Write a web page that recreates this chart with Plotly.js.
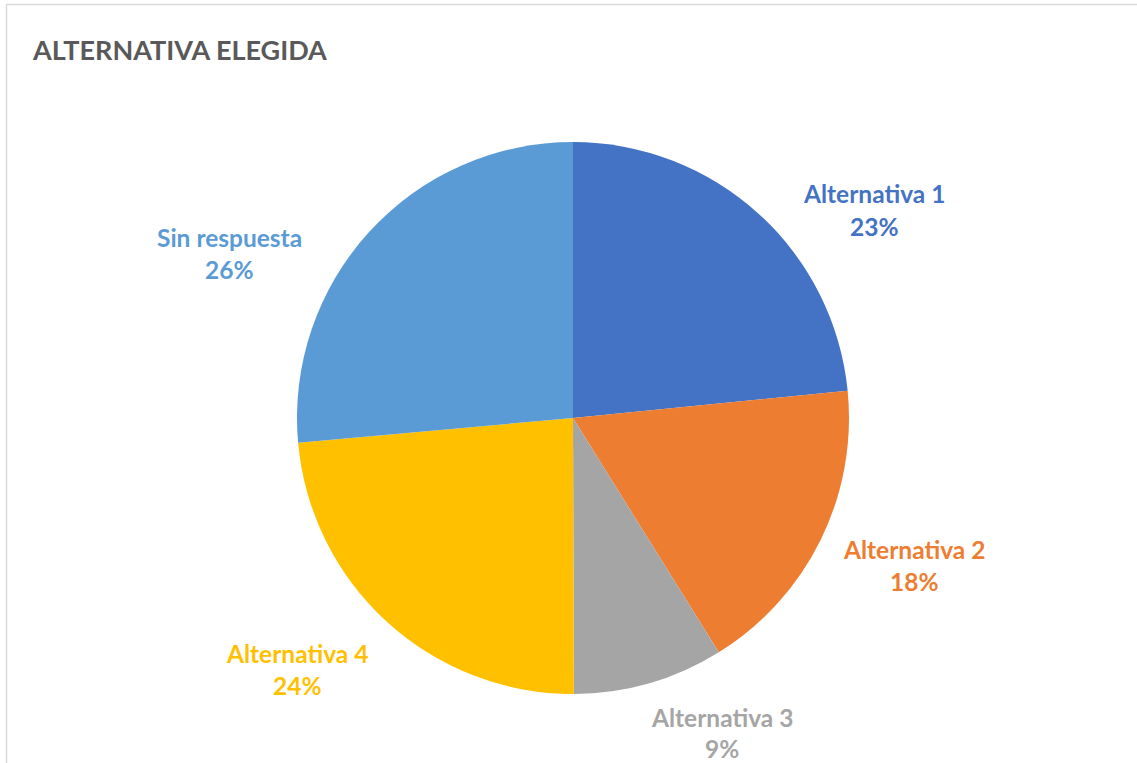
<!DOCTYPE html>
<html><head><meta charset="utf-8">
<script src="https://cdn.plot.ly/plotly-3.0.1.min.js"></script>
<style>html,body{margin:0;padding:0;background:#fff}#chart{width:1137px;height:763px}</style>
</head><body><div id="chart"></div>
<script>
const categories = ["Alternativa 1", "Alternativa 2", "Alternativa 3", "Alternativa 4", "Sin respuesta"];
const values = [23.4, 17.7, 8.8, 23.6, 26.4];
const colors = ["#4472C4", "#ED7D31", "#A5A5A5", "#FFC000", "#5B9BD5"];

const W = 1137, H = 763;
// label centres (pixels) for the two text lines of each slice label
const labelPos = [
  {x: 874, y1: 194, y2: 227},
  {x: 914, y1: 549, y2: 581},
  {x: 722, y1: 717, y2: 748},
  {x: 297, y1: 653, y2: 685},
  {x: 229, y1: 237, y2: 269}
];
const total = values.reduce((a, b) => a + b, 0);
const font = "Lato, 'Open Sans', sans-serif";
const annotations = [];
categories.forEach((c, i) => {
  const p = labelPos[i];
  const pct = Math.round(values[i] / total * 100) + "%";
  [[c, p.y1], [pct, p.y2]].forEach(([t, y]) => {
    annotations.push({
      text: "<b>" + t + "</b>", xref: "paper", yref: "paper",
      x: p.x / W, y: 1 - y / H, xanchor: "center", yanchor: "middle",
      showarrow: false, font: {family: font, size: 24.5, color: colors[i]}
    });
  });
});

const cx = 573, cy = 418, r = 276;
const data = [{
  type: "pie", labels: categories, values: values, sort: false,
  direction: "clockwise", rotation: 0,
  marker: {colors: colors, line: {color: "#ffffff", width: 0}},
  textinfo: "none", hoverinfo: "label+percent",
  domain: {x: [(cx - r) / W, (cx + r) / W], y: [1 - (cy + r) / H, 1 - (cy - r) / H]}
}];
const layout = {
  width: W, height: H, margin: {l: 0, r: 0, t: 0, b: 0},
  paper_bgcolor: "#ffffff", showlegend: false,
  title: {text: "<b>ALTERNATIVA ELEGIDA</b>", x: 33 / W, xanchor: "left", xref: "paper",
          y: 1 - 51 / H, yref: "paper", yanchor: "middle",
          font: {family: font, size: 27, color: "#595959"}},
  annotations: annotations,
  shapes: [
    {type: "line", xref: "paper", yref: "paper", x0: 6 / W, x1: 1, y0: 1 - 4.5 / H, y1: 1 - 4.5 / H, line: {color: "#d9d9d9", width: 1.5}},
    {type: "line", xref: "paper", yref: "paper", x0: 6.5 / W, x1: 6.5 / W, y0: 0, y1: 1 - 4 / H, line: {color: "#d9d9d9", width: 1.5}}
  ]
};
Plotly.newPlot("chart", data, layout, {displayModeBar: false, staticPlot: false});
</script></body></html>
